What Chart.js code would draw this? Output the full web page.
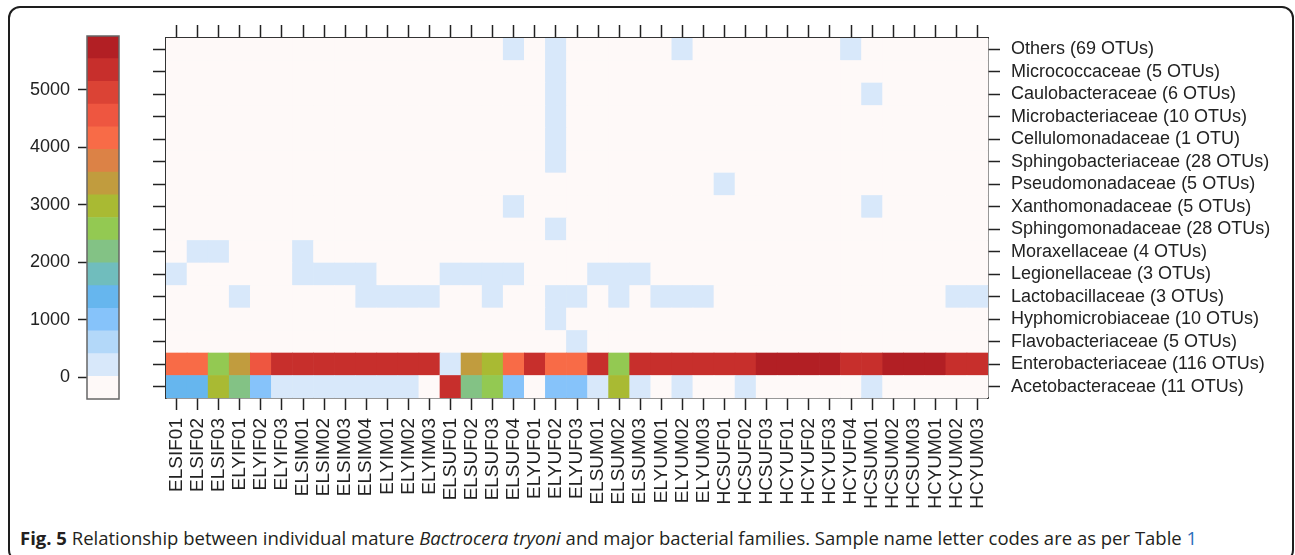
<!DOCTYPE html>
<html>
<head>
<meta charset="utf-8">
<script src="https://cdn.jsdelivr.net/npm/chart.js@4/dist/chart.umd.min.js"></script>
<style>
  body { margin: 0; background: #fff; width: 1295px; height: 555px; overflow: hidden; position: relative; }
  #frame { position: absolute; left: 8px; top: 6px; width: 1286px; height: 556px; border: 2px solid #1e1e1e; border-radius: 12px; box-sizing: border-box; }
  #heat { position: absolute; left: 0; top: 0; }
  #key { position: absolute; left: 0; top: 0; }
  #caption { position: absolute; left: 20px; top: 528px; line-height: 20px; font-family: "Open Sans", sans-serif; font-size: 18.5px; color: #231f20; white-space: nowrap; }
  #caption b { font-weight: 700; }
  #caption .ref { color: #2a6ebb; }
</style>
</head>
<body>
<div id="frame"></div>
<canvas id="heat" width="1295" height="520"></canvas>
<canvas id="key" width="140" height="420"></canvas>
<div id="caption"><b>Fig. 5</b> Relationship between individual mature <i>Bactrocera tryoni</i> and major bacterial families. Sample name letter codes are as per Table <span class="ref">1</span></div>

<script>
// samples (columns) and families (rows, bottom to top)
const samples = ['ELSIF01', 'ELSIF02', 'ELSIF03', 'ELYIF01', 'ELYIF02', 'ELYIF03', 'ELSIM01', 'ELSIM02', 'ELSIM03',
  'ELSIM04', 'ELYIM01', 'ELYIM02', 'ELYIM03', 'ELSUF01', 'ELSUF02', 'ELSUF03', 'ELSUF04', 'ELYUF01', 'ELYUF02',
  'ELYUF03', 'ELSUM01', 'ELSUM02', 'ELSUM03', 'ELYUM01', 'ELYUM02', 'ELYUM03', 'HCSUF01', 'HCSUF02', 'HCSUF03',
  'HCYUF01', 'HCYUF02', 'HCYUF03', 'HCYUF04', 'HCSUM01', 'HCSUM02', 'HCSUM03', 'HCYUM01', 'HCYUM02', 'HCYUM03'];

const families = ['Acetobacteraceae (11 OTUs)', 'Enterobacteriaceae (116 OTUs)', 'Flavobacteriaceae (5 OTUs)',
  'Hyphomicrobiaceae (10 OTUs)', 'Lactobacillaceae (3 OTUs)', 'Legionellaceae (3 OTUs)', 'Moraxellaceae (4 OTUs)',
  'Sphingomonadaceae (28 OTUs)', 'Xanthomonadaceae (5 OTUs)', 'Pseudomonadaceae (5 OTUs)',
  'Sphingobacteriaceae (28 OTUs)', 'Cellulomonadaceae (1 OTU)', 'Microbacteriaceae (10 OTUs)',
  'Caulobacteraceae (6 OTUs)', 'Micrococcaceae (5 OTUs)', 'Others (69 OTUs)'];

// read counts, one array per family (columns in sample order)
const acetobacteraceae = [1420, 1380, 2950, 2180, 1010, 160, 140, 170, 150, 130, 120, 110, 0,
  5380, 2160, 2580, 980, 0, 1050, 1020, 190, 2960, 170, 0, 90, 0,
  0, 60, 0, 0, 0, 0, 0, 70, 0, 0, 0, 0, 0];
const enterobacteriaceae = [4180, 4150, 2620, 3420, 4580, 5420, 5380, 5390, 5410, 5400, 5380, 5390, 5460,
  280, 3380, 2990, 4120, 5470, 4060, 4200, 5390, 2640, 5420, 5470, 5440, 5450,
  5480, 5460, 5680, 5700, 5690, 5710, 5470, 5440, 5690, 5700, 5680, 5480, 5470];
const flavobacteriaceae = [0, 0, 0, 0, 0, 0, 0, 0, 0, 0, 0, 0, 0,
  0, 0, 0, 0, 0, 0, 120, 0, 0, 0, 0, 0, 0,
  0, 0, 0, 0, 0, 0, 0, 0, 0, 0, 0, 0, 0];
const hyphomicrobiaceae = [0, 0, 0, 0, 0, 0, 0, 0, 0, 0, 0, 0, 0,
  0, 0, 0, 0, 0, 150, 0, 0, 0, 0, 0, 0, 0,
  0, 0, 0, 0, 0, 0, 0, 0, 0, 0, 0, 0, 0];
const lactobacillaceae = [0, 0, 0, 110, 0, 0, 0, 0, 0, 140, 160, 130, 120,
  0, 0, 100, 0, 0, 180, 150, 0, 120, 0, 130, 110, 140,
  0, 0, 0, 0, 0, 0, 0, 0, 0, 0, 0, 150, 130];
const legionellaceae = [130, 0, 0, 0, 0, 0, 150, 170, 140, 160, 0, 0, 0,
  120, 150, 130, 110, 0, 0, 0, 140, 160, 120, 0, 0, 0,
  0, 0, 0, 0, 0, 0, 0, 0, 0, 0, 0, 0, 0];
const moraxellaceae = [0, 140, 120, 0, 0, 0, 110, 0, 0, 0, 0, 0, 0,
  0, 0, 0, 0, 0, 0, 0, 0, 0, 0, 0, 0, 0,
  0, 0, 0, 0, 0, 0, 0, 0, 0, 0, 0, 0, 0];
const sphingomonadaceae = [0, 0, 0, 0, 0, 0, 0, 0, 0, 0, 0, 0, 0,
  0, 0, 0, 0, 0, 90, 0, 0, 0, 0, 0, 0, 0,
  0, 0, 0, 0, 0, 0, 0, 0, 0, 0, 0, 0, 0];
const xanthomonadaceae = [0, 0, 0, 0, 0, 0, 0, 0, 0, 0, 0, 0, 0,
  0, 0, 0, 100, 0, 0, 0, 0, 0, 0, 0, 0, 0,
  0, 0, 0, 0, 0, 0, 0, 80, 0, 0, 0, 0, 0];
const pseudomonadaceae = [0, 0, 0, 0, 0, 0, 0, 0, 0, 0, 0, 0, 0,
  0, 0, 0, 0, 0, 0, 0, 0, 0, 0, 0, 0, 0,
  90, 0, 0, 0, 0, 0, 0, 0, 0, 0, 0, 0, 0];
const sphingobacteriaceae = [0, 0, 0, 0, 0, 0, 0, 0, 0, 0, 0, 0, 0,
  0, 0, 0, 0, 0, 110, 0, 0, 0, 0, 0, 0, 0,
  0, 0, 0, 0, 0, 0, 0, 0, 0, 0, 0, 0, 0];
const cellulomonadaceae = [0, 0, 0, 0, 0, 0, 0, 0, 0, 0, 0, 0, 0,
  0, 0, 0, 0, 0, 120, 0, 0, 0, 0, 0, 0, 0,
  0, 0, 0, 0, 0, 0, 0, 0, 0, 0, 0, 0, 0];
const microbacteriaceae = [0, 0, 0, 0, 0, 0, 0, 0, 0, 0, 0, 0, 0,
  0, 0, 0, 0, 0, 100, 0, 0, 0, 0, 0, 0, 0,
  0, 0, 0, 0, 0, 0, 0, 0, 0, 0, 0, 0, 0];
const caulobacteraceae = [0, 0, 0, 0, 0, 0, 0, 0, 0, 0, 0, 0, 0,
  0, 0, 0, 0, 0, 90, 0, 0, 0, 0, 0, 0, 0,
  0, 0, 0, 0, 0, 0, 0, 70, 0, 0, 0, 0, 0];
const micrococcaceae = [0, 0, 0, 0, 0, 0, 0, 0, 0, 0, 0, 0, 0,
  0, 0, 0, 0, 0, 100, 0, 0, 0, 0, 0, 0, 0,
  0, 0, 0, 0, 0, 0, 0, 0, 0, 0, 0, 0, 0];
const others = [0, 0, 0, 0, 0, 0, 0, 0, 0, 0, 0, 0, 0,
  0, 0, 0, 120, 0, 160, 0, 0, 0, 0, 0, 90, 0,
  0, 0, 0, 0, 0, 0, 80, 0, 0, 0, 0, 0, 0];

const rows = [acetobacteraceae, enterobacteriaceae, flavobacteriaceae, hyphomicrobiaceae, lactobacillaceae,
  legionellaceae, moraxellaceae, sphingomonadaceae, xanthomonadaceae, pseudomonadaceae, sphingobacteriaceae,
  cellulomonadaceae, microbacteriaceae, caulobacteraceae, micrococcaceae, others];

// colour key: bin edges and colours (bottom to top)
const keyBreaks = [-383, 12, 407, 802, 1197, 1592, 1987, 2382, 2777, 3172, 3567, 3962, 4357, 4752, 5147, 5542, 5937];
const keyColours = ['#fef9f8', '#d8e8fa', '#b3d8f9', '#86c3fa', '#66b6ee', '#70bdbd', '#83c285', '#93c952',
  '#a9ba33', '#c19c3e', '#dc8246', '#f86b47', '#ee5640', '#db4335', '#c72f2c', '#b21f24'];
const keyTicks = [0, 1000, 2000, 3000, 4000, 5000];

function colourFor(v) {
  for (let i = 1; i < keyBreaks.length; i++) {
    if (v <= keyBreaks[i]) return keyColours[i - 1];
  }
  return keyColours[keyColours.length - 1];
}

const tickFont = { family: 'Liberation Sans', size: 18 };
const axisColour = '#222';

// heatmap: one stacked bar per cell, coloured by count
const heatChart = new Chart(document.getElementById('heat'), {
  type: 'bar',
  data: {
    labels: samples,
    datasets: rows.map((vals, r) => ({
      label: families[r],
      data: vals.map(() => 1),
      backgroundColor: vals.map(colourFor),
      borderWidth: 0,
      barPercentage: 1,
      categoryPercentage: 1
    }))
  },
  options: {
    responsive: false,
    animation: false,
    layout: { padding: { left: 152, top: 23, right: 2, bottom: 12 } },
    plugins: { legend: { display: false }, tooltip: { enabled: false } },
    scales: {
      x: {
        stacked: true,
        z: 1,
        grid: { drawOnChartArea: false, offset: false, tickLength: 12, tickWidth: 1.5, tickColor: axisColour },
        border: { color: '#333', width: 1.5 },
        ticks: { autoSkip: false, minRotation: 90, maxRotation: 90, padding: 8, color: axisColour,
          font: { family: 'Liberation Sans', size: 19 } },
        afterFit: s => { s.height = 110; }
      },
      xTop: {
        type: 'category',
        labels: samples,
        position: 'top',
        z: 1,
        grid: { drawOnChartArea: false, offset: false, tickLength: 13, tickWidth: 1.5, tickColor: axisColour },
        border: { color: '#333', width: 1.5 },
        ticks: { display: false, autoSkip: false },
        afterFit: s => { s.height = 15; }
      },
      y: {
        type: 'linear',
        position: 'right',
        stacked: true,
        min: 0,
        max: families.length,
        z: 1,
        afterBuildTicks: s => { s.ticks = families.map((f, i) => ({ value: i + 0.5 })); },
        grid: { drawOnChartArea: false, tickLength: 12, tickWidth: 1.5, tickColor: axisColour },
        border: { color: '#333', width: 1.5 },
        ticks: { autoSkip: false, callback: v => families[Math.floor(v)], padding: 11, color: axisColour, font: tickFont },
        afterFit: s => { s.width = 305; }
      },
      yLeft: {
        type: 'linear',
        position: 'left',
        min: 0,
        max: families.length,
        z: 1,
        afterBuildTicks: s => { s.ticks = families.map((f, i) => ({ value: i + 0.5 })); },
        grid: { drawOnChartArea: false, tickLength: 13, tickWidth: 1.5, tickColor: axisColour },
        border: { color: '#333', width: 1.5 },
        ticks: { display: false, autoSkip: false },
        afterFit: s => { s.width = 14; }
      }
    }
  }
});

// colour key on the left
const keyFrame = {
  id: 'keyFrame',
  afterDatasetsDraw(chart) {
    const a = chart.chartArea;
    const ctx = chart.ctx;
    ctx.save();
    ctx.strokeStyle = '#666';
    ctx.lineWidth = 1.5;
    ctx.strokeRect(a.left, a.top, a.right - a.left, a.bottom - a.top);
    ctx.restore();
  }
};

const keyChart = new Chart(document.getElementById('key'), {
  type: 'bar',
  data: {
    labels: [''],
    datasets: keyColours.map((c, i) => ({
      data: [[keyBreaks[i], keyBreaks[i + 1]]],
      backgroundColor: c,
      borderWidth: 0,
      grouped: false,
      barPercentage: 1,
      categoryPercentage: 1
    }))
  },
  options: {
    responsive: false,
    animation: false,
    layout: { padding: { left: 0, top: 36, right: 21, bottom: 21 } },
    plugins: { legend: { display: false }, tooltip: { enabled: false } },
    scales: {
      x: { display: false },
      y: {
        min: keyBreaks[0],
        max: keyBreaks[keyBreaks.length - 1],
        afterBuildTicks: s => { s.ticks = keyTicks.map(v => ({ value: v })); },
        grid: { drawOnChartArea: false, tickLength: 9, tickWidth: 1.5, tickColor: axisColour },
        border: { display: false },
        ticks: { autoSkip: false, callback: v => String(v), padding: 8, color: axisColour, font: tickFont },
        afterFit: s => { s.width = 87; }
      }
    }
  },
  plugins: [keyFrame]
});
</script>
</body>
</html>
